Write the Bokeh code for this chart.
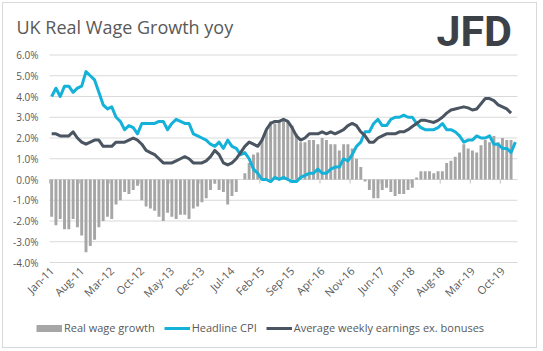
import math
import pandas as pd
from bokeh.plotting import figure
from bokeh.models import Range1d, Legend, LegendItem, ColumnDataSource
from bokeh.core.properties import value
from bokeh.embed import file_html
from bokeh.resources import INLINE

# ---------------- data ----------------
months = [d.strftime("%b-%y") for d in pd.date_range("2011-01-01", "2020-01-01", freq="MS")]

headline_cpi = [
    4.0, 4.4, 4.0, 4.5, 4.5, 4.2, 4.4, 4.5, 5.2, 5.0, 4.8, 4.2,
    3.6, 3.4, 3.5, 3.0, 2.8, 2.4, 2.6, 2.5, 2.2, 2.7, 2.7, 2.7,
    2.7, 2.8, 2.8, 2.4, 2.7, 2.9, 2.8, 2.7, 2.7, 2.2, 2.1, 2.0,
    1.9, 1.7, 1.6, 1.8, 1.5, 1.9, 1.6, 1.5, 1.2, 1.3, 1.0, 0.5,
    0.3, 0.0, 0.0, -0.1, 0.1, 0.0, 0.1, 0.0, -0.1, -0.1, 0.1, 0.2,
    0.3, 0.3, 0.5, 0.3, 0.3, 0.5, 0.6, 0.6, 1.0, 0.9, 1.2, 1.6,
    1.8, 2.3, 2.3, 2.7, 2.9, 2.6, 2.6, 2.9, 3.0, 3.0, 3.1, 3.0,
    3.0, 2.7, 2.5, 2.4, 2.4, 2.4, 2.5, 2.7, 2.4, 2.4, 2.3, 2.1,
    1.8, 1.9, 1.9, 2.1, 2.0, 2.0, 2.1, 1.7, 1.7, 1.5, 1.5, 1.3,
    1.8,
]

avg_weekly_earnings = [
    2.2, 2.2, 2.1, 2.1, 2.1, 2.3, 2.0, 1.8, 1.7, 1.8, 1.9, 1.9,
    1.6, 1.6, 1.6, 1.8, 1.8, 1.8, 1.9, 2.0, 1.9, 1.7, 1.4, 1.3,
    1.2, 1.0, 0.8, 0.8, 0.8, 0.9, 1.0, 1.1, 1.0, 0.8, 0.8, 0.8,
    0.9, 1.1, 1.4, 1.2, 0.8, 0.7, 0.8, 1.0, 1.3, 1.6, 1.8, 1.7,
    1.6, 1.9, 2.4, 2.7, 2.8, 2.8, 2.9, 2.8, 2.5, 2.1, 1.9, 2.0,
    2.2, 2.2, 2.2, 2.3, 2.2, 2.3, 2.2, 2.3, 2.4, 2.6, 2.7, 2.6,
    2.3, 2.1, 1.8, 1.8, 2.0, 2.1, 2.2, 2.2, 2.2, 2.3, 2.3, 2.4,
    2.55, 2.7, 2.85, 2.85, 2.8, 2.75, 2.85, 3.0, 3.2, 3.35, 3.4, 3.45,
    3.5, 3.45, 3.35, 3.4, 3.65, 3.9, 3.9, 3.8, 3.6, 3.5, 3.4, 3.2,
]

real_wage_growth = [
    -1.8, -2.2, -1.9, -2.4, -2.4, -1.9, -2.3, -2.7, -3.5, -3.2, -2.9, -2.3,
    -2.0, -1.8, -1.9, -1.2, -1.0, -0.6, -0.7, -0.5, -0.3, -1.0, -1.3, -1.4,
    -1.5, -1.8, -2.0, -1.6, -1.8, -1.9, -1.7, -1.7, -1.9, -1.4, -1.3, -1.1,
    -0.9, -0.5, -0.2, -0.5, -0.6, -1.2, -0.8, -0.6, 0.0, 0.3, 0.8, 1.2,
    1.3, 1.9, 2.4, 2.8, 2.7, 2.8, 2.8, 2.8, 2.6, 2.2, 1.8, 1.8,
    1.9, 1.9, 1.7, 2.0, 1.9, 1.7, 1.7, 1.4, 1.7, 1.7, 1.5, 1.0,
    0.6, -0.1, -0.5, -0.9, -0.9, -0.5, -0.4, -0.6, -0.8, -0.7, -0.7, -0.5,
    -0.4, 0.1, 0.4, 0.4, 0.4, 0.3, 0.4, 0.4, 0.8, 0.9, 1.1, 1.3,
    1.7, 1.5, 1.4, 1.3, 1.65, 1.9, 1.8, 2.1, 1.8, 2.0, 1.9, 1.9,
]

x_tick_labels = ["Jan-11", "Aug-11", "Mar-12", "Oct-12", "May-13", "Dec-13",
                 "Jul-14", "Feb-15", "Sep-15", "Apr-16", "Nov-16", "Jun-17",
                 "Jan-18", "Aug-18", "Mar-19", "Oct-19"]
y_ticks = [-4, -3, -2, -1, 0, 1, 2, 3, 4, 5, 6]
y_tick_labels = ["-4.0%", "-3.0%", "-2.0%", "-1.0%", "0.0%", "1.0%",
                 "2.0%", "3.0%", "4.0%", "5.0%", "6.0%"]
legend_labels = ["Real wage growth", "Headline CPI",
                 "Average weekly earnings ex. bonuses"]

title_text = "UK Real Wage Growth yoy"
logo_text = "JFD"

# ---------------- styling / layout ----------------
FONT = "Open Sans"
TXT = "#595959"
GRID = "#d9d9d9"
BAR_C = "#a6a6a6"
CPI_C = "#14b1d9"
AWE_C = "#4a5561"

W, H = 535, 346          # canvas inside the 1px chart border
OFF = 3                  # page offset of the canvas (2px margin + 1px border)
PLOT_L, PLOT_R = 49, 517     # plot area, page pixels
PLOT_T, PLOT_B = 54.5, 262
Y_MIN, Y_MAX = y_ticks[0], y_ticks[-1]
n_cat = len(months)
SX = (PLOT_R - PLOT_L) / n_cat
SY = (PLOT_B - PLOT_T) / (Y_MAX - Y_MIN)


def xd(px):
    """page x pixel -> category coordinate"""
    return (px - PLOT_L) / SX - 0.5


def yd(py):
    """page y pixel -> value coordinate"""
    return Y_MAX - (py - PLOT_T) / SY


p = figure(width=W, height=H, output_backend="svg", toolbar_location=None,
           title=None, x_axis_type=None, y_axis_type=None,
           x_range=Range1d(xd(OFF), xd(OFF + W)),
           y_range=Range1d(yd(OFF + H), yd(OFF)),
           min_border_left=0, min_border_right=0, min_border_top=0,
           min_border_bottom=0,
           styles={"margin-left": "2px", "margin-top": "2px",
                   "border": "1px solid #d9d9d9"})
p.outline_line_color = None
p.xgrid.visible = False
p.ygrid.visible = False

x_idx = list(range(n_cat))
tick_idx = [months.index(t) for t in x_tick_labels]
cat_lo, cat_hi = -0.5, n_cat - 0.5

# gridlines across the plot area
grid_src = ColumnDataSource(dict(x0=[cat_lo] * len(y_ticks), x1=[cat_hi] * len(y_ticks),
                                 y=y_ticks))
p.segment(x0="x0", y0="y", x1="x1", y1="y", source=grid_src,
          line_color=GRID, line_width=1)

# category tick marks on the zero line
tickmark_src = ColumnDataSource(dict(x=[i - 0.5 for i in tick_idx],
                                     y0=[0] * len(tick_idx),
                                     y1=[-4 / SY] * len(tick_idx)))
p.segment(x0="x", y0="y0", x1="x", y1="y1", source=tickmark_src,
          line_color="#bfbfbf", line_width=1)

# series
bar_src = ColumnDataSource(dict(x=x_idx[:len(real_wage_growth)], y=real_wage_growth))
cpi_src = ColumnDataSource(dict(x=x_idx[:len(headline_cpi)], y=headline_cpi))
awe_src = ColumnDataSource(dict(x=x_idx[:len(avg_weekly_earnings)], y=avg_weekly_earnings))

p.vbar(x="x", top="y", bottom=0, width=0.68, source=bar_src,
       fill_color=BAR_C, line_color=None)
cpi_line = p.line("x", "y", source=cpi_src, line_color=CPI_C, line_width=3,
                  line_join="round")
awe_line = p.line("x", "y", source=awe_src, line_color=AWE_C, line_width=3,
                  line_join="round")

# y tick labels
ylab_src = ColumnDataSource(dict(x=[xd(38)] * len(y_ticks), y=y_ticks, t=y_tick_labels))
p.text(x="x", y="y", text="t", source=ylab_src, text_font=value(FONT),
       text_font_size="10px", text_color=TXT, text_align="right",
       text_baseline="middle")

# x tick labels (rotated)
xlab_src = ColumnDataSource(dict(x=tick_idx, y=[yd(PLOT_B + 6)] * len(tick_idx),
                                 t=x_tick_labels))
p.text(x="x", y="y", text="t", source=xlab_src, text_font=value(FONT),
       text_font_size="11px", text_color=TXT, text_align="right",
       text_baseline="middle", angle=math.pi / 4)

# title and logo
title_src = ColumnDataSource(dict(x=[xd(16)], y=[yd(26.5)], t=[title_text]))
p.text(x="x", y="y", text="t", source=title_src, text_font=value(FONT),
       text_font_size="18px", text_color=TXT, text_baseline="middle")
logo_src = ColumnDataSource(dict(x=[xd(436)], y=[yd(30.5)], t=[logo_text]))
p.text(x="x", y="y", text="t", source=logo_src, text_font=value("Roboto"),
       text_font_style="bold", text_font_size="43px", text_color="#3c4148",
       text_baseline="middle")

# legend swatch for the bars (a thick line gives the flat Excel rectangle)
bar_swatch = p.line(x=[float("nan")], y=[float("nan")], line_color=BAR_C,
                    line_width=7)

legend = Legend(items=[
    LegendItem(label=legend_labels[0], renderers=[bar_swatch]),
    LegendItem(label=legend_labels[1], renderers=[cpi_line]),
    LegendItem(label=legend_labels[2], renderers=[awe_line]),
], orientation="horizontal", location=(33, 14))
legend.padding = 0
legend.margin = 0
legend.spacing = 9
legend.label_standoff = 2
legend.glyph_width = 26
legend.glyph_height = 10
legend.border_line_color = None
legend.background_fill_alpha = 0
legend.label_text_font = FONT
legend.label_text_font_size = "11px"
legend.label_text_color = TXT
p.add_layout(legend, "center")

open("out.html", "w").write(file_html(p, INLINE))
